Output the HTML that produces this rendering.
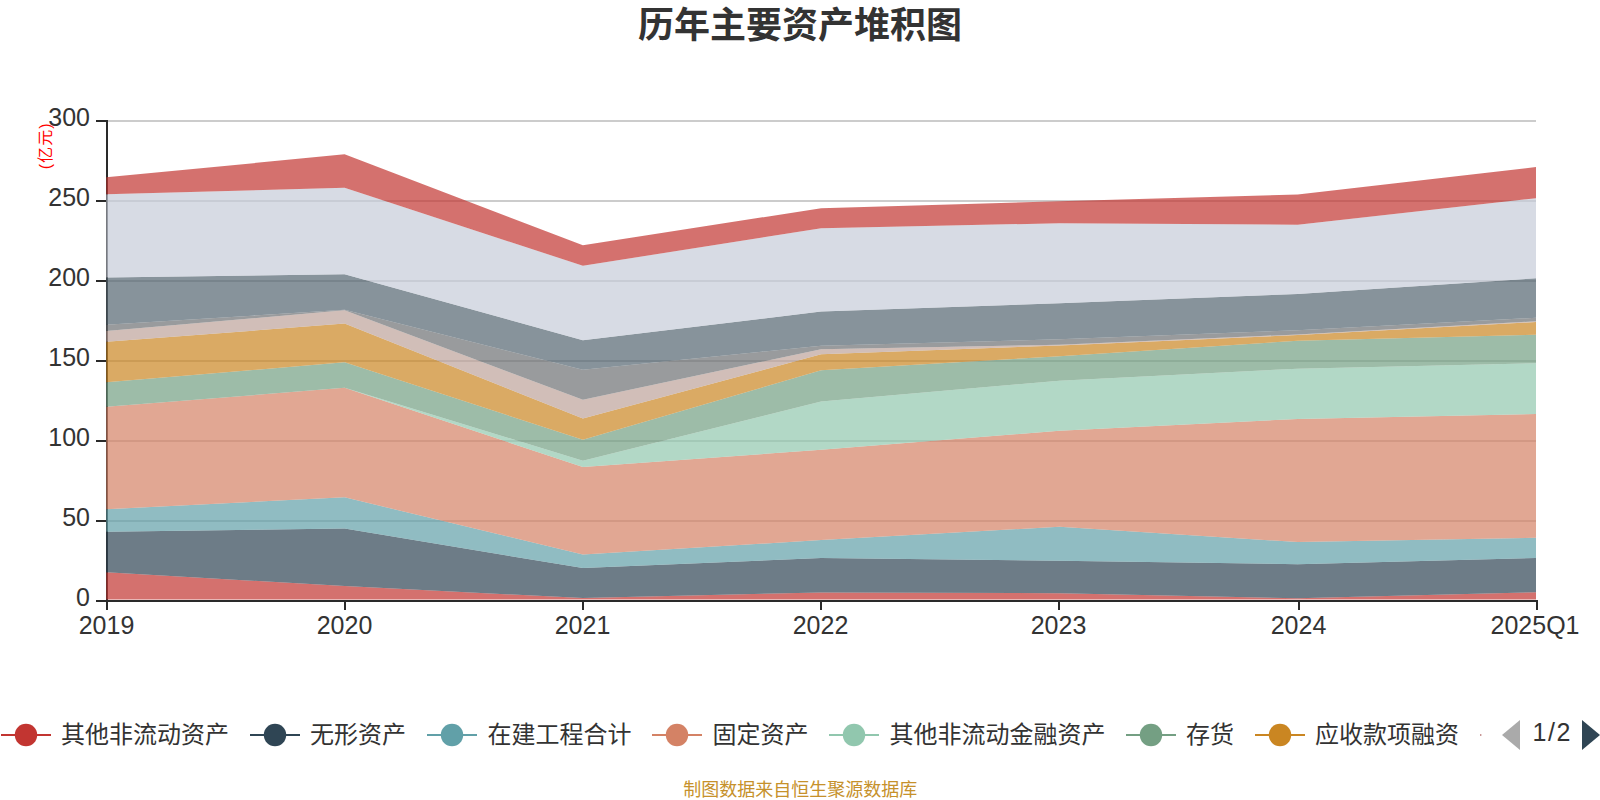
<!DOCTYPE html>
<html lang="zh"><head><meta charset="utf-8"><title>历年主要资产堆积图</title>
<style>
html,body{margin:0;padding:0;background:#fff;}
body{width:1600px;height:800px;overflow:hidden;position:relative;font-family:"Liberation Sans","Noto Sans CJK SC",sans-serif;}
svg{position:absolute;left:0;top:0;display:block;}
svg text{font-family:"Liberation Sans","Noto Sans CJK SC",sans-serif;}
.ax text{font-size:25px;fill:#333;}
.lg{font-size:24px;fill:#333;}
.title{font-size:36px;font-weight:bold;fill:#333;}
.unit{font-size:16px;fill:#ff0000;}
.foot{font-size:18px;fill:#c6912b;}
</style></head><body>
<svg width="1600" height="800" viewBox="0 0 1600 800">
<defs><clipPath id="gc"><rect x="106" y="100" width="1430" height="499.6"/></clipPath></defs>
<text class="title" x="800" y="38.4" text-anchor="middle">历年主要资产堆积图</text>
<g id="grid">
<rect x="108" y="520" width="1428" height="2" fill="#ccc"/>
<rect x="108" y="440" width="1428" height="2" fill="#ccc"/>
<rect x="108" y="360" width="1428" height="2" fill="#ccc"/>
<rect x="108" y="280" width="1428" height="2" fill="#ccc"/>
<rect x="108" y="200" width="1428" height="2" fill="#ccc"/>
<rect x="108" y="120" width="1428" height="2" fill="#ccc"/>
</g>
<g id="axisline">
<rect x="106" y="120" width="2" height="482" fill="#2a2a2a"/>
<rect x="106" y="600" width="1432" height="2" fill="#2a2a2a"/>
</g>
<g id="ticks">
<rect x="96" y="600" width="11" height="2" fill="#2a2a2a"/>
<rect x="96" y="520" width="11" height="2" fill="#2a2a2a"/>
<rect x="96" y="440" width="11" height="2" fill="#2a2a2a"/>
<rect x="96" y="360" width="11" height="2" fill="#2a2a2a"/>
<rect x="96" y="280" width="11" height="2" fill="#2a2a2a"/>
<rect x="96" y="200" width="11" height="2" fill="#2a2a2a"/>
<rect x="96" y="120" width="11" height="2" fill="#2a2a2a"/>
<rect x="106" y="601" width="2" height="9" fill="#2a2a2a"/>
<rect x="344" y="601" width="2" height="9" fill="#2a2a2a"/>
<rect x="582" y="601" width="2" height="9" fill="#2a2a2a"/>
<rect x="820" y="601" width="2" height="9" fill="#2a2a2a"/>
<rect x="1058" y="601" width="2" height="9" fill="#2a2a2a"/>
<rect x="1298" y="601" width="2" height="9" fill="#2a2a2a"/>
<rect x="1536" y="601" width="2" height="9" fill="#2a2a2a"/>
</g>
<g class="ax">
<text x="90" y="606.1" text-anchor="end">0</text>
<text x="90" y="526.1" text-anchor="end">50</text>
<text x="90" y="446.1" text-anchor="end">100</text>
<text x="90" y="366.1" text-anchor="end">150</text>
<text x="90" y="286.1" text-anchor="end">200</text>
<text x="90" y="206.1" text-anchor="end">250</text>
<text x="90" y="126.1" text-anchor="end">300</text>
<text x="106.5" y="634.1" text-anchor="middle">2019</text>
<text x="344.5" y="634.1" text-anchor="middle">2020</text>
<text x="582.5" y="634.1" text-anchor="middle">2021</text>
<text x="820.5" y="634.1" text-anchor="middle">2022</text>
<text x="1058.5" y="634.1" text-anchor="middle">2023</text>
<text x="1298.5" y="634.1" text-anchor="middle">2024</text>
<text x="1535" y="634.1" text-anchor="middle">2025Q1</text>
</g>
<text class="unit" transform="translate(51,169.3) rotate(-90)" textLength="46" lengthAdjust="spacing">(亿元)</text>
<g id="areas" clip-path="url(#gc)" fill-opacity="0.7">
<polygon fill="#c23531" points="106.30,572.35 344.58,586.10 582.87,598.05 821.15,592.45 1059.43,593.25 1297.72,598.25 1536.00,592.25 1536.00,601.00 1297.72,601.00 1059.43,601.00 821.15,601.00 582.87,601.00 344.58,601.00 106.30,601.00"/>
<polygon fill="#2f4554" points="106.30,531.85 344.58,528.60 582.87,568.05 821.15,558.05 1059.43,560.75 1297.72,564.25 1536.00,558.00 1536.00,592.25 1297.72,598.25 1059.43,593.25 821.15,592.45 582.87,598.05 344.58,586.10 106.30,572.35"/>
<polygon fill="#61a0a8" points="106.30,509.25 344.58,497.35 582.87,554.55 821.15,540.05 1059.43,526.75 1297.72,542.05 1536.00,537.75 1536.00,558.00 1297.72,564.25 1059.43,560.75 821.15,558.05 582.87,568.05 344.58,528.60 106.30,531.85"/>
<polygon fill="#d48265" points="106.30,406.85 344.58,387.85 582.87,467.00 821.15,449.75 1059.43,430.75 1297.72,419.00 1536.00,414.00 1536.00,537.75 1297.72,542.05 1059.43,526.75 821.15,540.05 582.87,554.55 344.58,497.35 106.30,509.25"/>
<polygon fill="#91c7ae" points="106.30,406.85 344.58,387.85 582.87,460.75 821.15,401.50 1059.43,380.65 1297.72,368.65 1536.00,363.25 1536.00,414.00 1297.72,419.00 1059.43,430.75 821.15,449.75 582.87,467.00 344.58,387.85 106.30,406.85"/>
<polygon fill="#749f83" points="106.30,382.35 344.58,362.35 582.87,439.75 821.15,370.25 1059.43,356.25 1297.72,340.75 1536.00,334.75 1536.00,363.25 1297.72,368.65 1059.43,380.65 821.15,401.50 582.87,460.75 344.58,387.85 106.30,406.85"/>
<polygon fill="#ca8622" points="106.30,341.85 344.58,323.60 582.87,418.50 821.15,354.25 1059.43,345.45 1297.72,335.05 1536.00,322.05 1536.00,334.75 1297.72,340.75 1059.43,356.25 821.15,370.25 582.87,439.75 344.58,362.35 106.30,382.35"/>
<polygon fill="#bda29a" points="106.30,331.10 344.58,310.35 582.87,399.75 821.15,349.25 1059.43,344.75 1297.72,334.45 1536.00,321.25 1536.00,322.05 1297.72,335.05 1059.43,345.45 821.15,354.25 582.87,418.50 344.58,323.60 106.30,341.85"/>
<polygon fill="#6e7074" points="106.30,324.85 344.58,309.85 582.87,369.75 821.15,345.75 1059.43,339.25 1297.72,330.25 1536.00,317.75 1536.00,321.25 1297.72,334.45 1059.43,344.75 821.15,349.25 582.87,399.75 344.58,310.35 106.30,331.10"/>
<polygon fill="#546570" points="106.30,277.60 344.58,274.35 582.87,340.25 821.15,311.50 1059.43,303.25 1297.72,294.00 1536.00,278.25 1536.00,317.75 1297.72,330.25 1059.43,339.25 821.15,345.75 582.87,369.75 344.58,309.85 106.30,324.85"/>
<polygon fill="#c6ccd8" points="106.30,194.35 344.58,187.85 582.87,265.75 821.15,228.25 1059.43,223.25 1297.72,224.75 1536.00,198.25 1536.00,278.25 1297.72,294.00 1059.43,303.25 821.15,311.50 582.87,340.25 344.58,274.35 106.30,277.60"/>
<polygon fill="#c23531" points="106.30,177.35 344.58,154.35 582.87,245.25 821.15,208.25 1059.43,201.25 1297.72,194.50 1536.00,167.00 1536.00,198.25 1297.72,224.75 1059.43,223.25 821.15,228.25 582.87,265.75 344.58,187.85 106.30,194.35"/>
</g>
<g id="legend">
<rect x="1" y="734" width="50" height="2" fill="#c23531"/><circle cx="26" cy="735" r="11.2" fill="#c23531"/>
<text class="lg" x="61" y="742.5">其他非流动资产</text>
<rect x="250" y="734" width="50" height="2" fill="#2f4554"/><circle cx="275" cy="735" r="11.2" fill="#2f4554"/>
<text class="lg" x="310" y="742.5">无形资产</text>
<rect x="427" y="734" width="50" height="2" fill="#61a0a8"/><circle cx="452" cy="735" r="11.2" fill="#61a0a8"/>
<text class="lg" x="487.5" y="742.5">在建工程合计</text>
<rect x="652" y="734" width="50" height="2" fill="#d48265"/><circle cx="677" cy="735" r="11.2" fill="#d48265"/>
<text class="lg" x="712.5" y="742.5">固定资产</text>
<rect x="829" y="734" width="50" height="2" fill="#91c7ae"/><circle cx="854" cy="735" r="11.2" fill="#91c7ae"/>
<text class="lg" x="889.5" y="742.5">其他非流动金融资产</text>
<rect x="1126" y="734" width="50" height="2" fill="#749f83"/><circle cx="1151" cy="735" r="11.2" fill="#749f83"/>
<text class="lg" x="1186" y="742.5">存货</text>
<rect x="1255" y="734" width="50" height="2" fill="#ca8622"/><circle cx="1280" cy="735" r="11.2" fill="#ca8622"/>
<text class="lg" x="1315" y="742.5">应收款项融资</text>

<rect x="1480" y="734" width="1.4" height="2" fill="#c99796"/>
<polygon points="1502,735 1520,720 1520,750" fill="#aaa"/>
<text class="lg" x="1552.2" y="740.8" text-anchor="middle" style="font-size:25px;letter-spacing:1.6px">1/2</text>
<polygon points="1600,735 1582,720 1582,750" fill="#2f4554"/>
</g>
<text class="foot" x="800.3" y="796.2" text-anchor="middle">制图数据来自恒生聚源数据库</text>
</svg>
</body></html>
